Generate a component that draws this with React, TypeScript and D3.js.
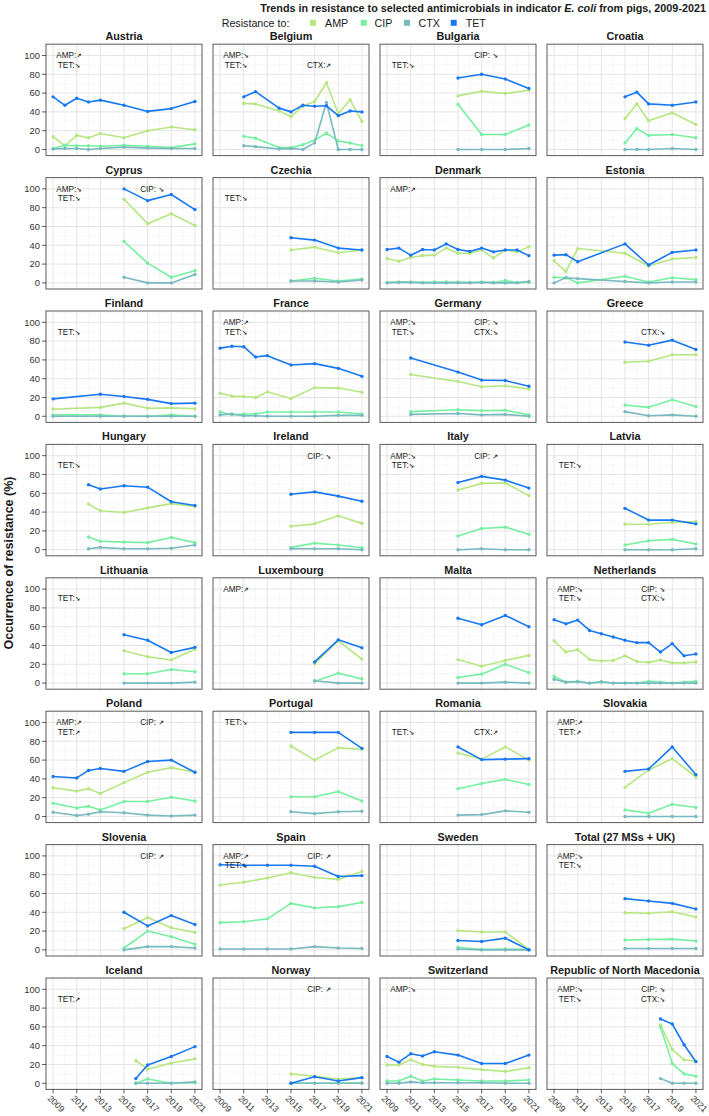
import React from "react";
import * as d3 from "d3";

const W = 709;
const H = 1116;

const countries = [
  "Austria", "Belgium", "Bulgaria", "Croatia",
  "Cyprus", "Czechia", "Denmark", "Estonia",
  "Finland", "France", "Germany", "Greece",
  "Hungary", "Ireland", "Italy", "Latvia",
  "Lithuania", "Luxembourg", "Malta", "Netherlands",
  "Poland", "Portugal", "Romania", "Slovakia",
  "Slovenia", "Spain", "Sweden", "Total (27 MSs + UK)",
  "Iceland", "Norway", "Switzerland", "Republic of North Macedonia",
];

const Y4 = [2015, 2017, 2019, 2021];
const ALL = [2009, 2010, 2011, 2012, 2013, 2014, 2015, 2016, 2017, 2018, 2019, 2020, 2021];

const years: number[][] = [
  [2009, 2010, 2011, 2012, 2013, 2015, 2017, 2019, 2021],
  [2011, 2012, 2014, 2015, 2016, 2017, 2018, 2019, 2020, 2021],
  Y4,
  [2015, 2016, 2017, 2019, 2021],
  Y4, Y4, ALL,
  [2009, 2010, 2011, 2015, 2017, 2019, 2021],
  [2009, 2013, 2015, 2017, 2019, 2021],
  [2009, 2010, 2011, 2012, 2013, 2015, 2017, 2019, 2021],
  [2011, 2015, 2017, 2019, 2021],
  Y4,
  [2012, 2013, 2015, 2017, 2019, 2021],
  Y4, Y4, Y4,
  Y4,
  [2017, 2019, 2021],
  Y4,
  ALL,
  [2009, 2011, 2012, 2013, 2015, 2017, 2019, 2021],
  Y4, Y4, Y4,
  Y4,
  [2009, 2011, 2013, 2015, 2017, 2019, 2021],
  Y4, Y4,
  [2016, 2017, 2019, 2021],
  Y4,
  [2009, 2010, 2011, 2012, 2013, 2015, 2017, 2019, 2021],
  [2018, 2019, 2020, 2021],
];

const AMP: number[][] = [
  [13.5, 4, 15, 12.5, 17, 12.5, 20, 24, 21],
  [49, 48.5, 41, 35, 46, 51, 71, 38, 53, 30],
  [57, 62, 59.5, 63],
  [33, 48.5, 30.5, 39, 26.5],
  [89, 63, 73.5, 61],
  [35, 38, 32, 35],
  [26, 23, 27, 29, 29.5, 37, 31.5, 31.5, 35, 26.5, 35, 33, 38.5],
  [23.5, 12, 36.5, 31.5, 18, 25.5, 27],
  [7.5, 9.5, 14, 8.5, 9, 8],
  [24.5, 21.5, 21, 20, 26, 19, 30.5, 30, 25.5],
  [44.5, 37, 31.5, 32.5, 29],
  [57.5, 58.5, 65.5, 65.5],
  [48.5, 41.5, 39.5, 44.5, 49, 46],
  [25, 27.5, 36, 28],
  [63.5, 70.5, 71, 57.5],
  [27, 27, 29, 30],
  [34.5, 28, 24.5, 36],
  [20.5, 45, 25.5],
  [25, 18, 24, 29.5],
  [45, 33, 35.5, 25, 23.5, 24, 29, 23, 22, 24.5, 21.5, 21.5, 22.5],
  [30.5, 27, 29.5, 24.5, 36, 47, 52, 47],
  [75, 60, 73, 71.5],
  [67.5, 61, 74, 60],
  [31, 49.5, 61.5, 42],
  [22.5, 34.5, 23.5, 18.5],
  [69, 72, 76.5, 82, 77, 75, 83.5],
  [20.5, 19, 19, 0.5],
  [39.5, 39, 40.5, 35],
  [24, 15, 21.5, 26],
  [10, 7.5, 4.5, 6],
  [19.5, 19.5, 25, 20, 18, 17, 14.5, 12.5, 16.5],
  [62, 36, 25, 23.5],
];

const CIP: number[][] = [
  [1, 4.5, 4, 4, 3.5, 4.5, 3.5, 2, 6],
  [14, 12, 2, 2, 5, 10, 17.5, 9, 7, 4],
  [48, 16, 16, 26],
  [7, 22, 15, 16, 12.5],
  [44, 21, 6, 13],
  [2, 5, 2, 4],
  [0.5, 1, 1, 0.5, 1, 1, 1, 0.5, 1, 0.5, 2.5, 0.5, 0.5],
  [6, 5.5, 0, 7, 1, 5.5, 3.5],
  [1.5, 1.5, 0, 0, 1.5, 0],
  [4.5, 1.5, 2.5, 2.5, 4.5, 4.5, 4.5, 4.5, 2.5],
  [5, 7, 6, 6.5, 1.5],
  [12, 9.5, 17.5, 10.5],
  [13.5, 9, 8, 7.5, 13, 7.5],
  [2.5, 7, 5, 2],
  [14.5, 22.5, 24, 16.5],
  [5, 9.5, 11, 6],
  [10, 10, 14.5, 12],
  [2, 10.5, 4.5],
  [6, 9.5, 20, 11],
  [7, 1, 2, 0, 1, 0, 0, 0, 2, 1, 0, 1, 2],
  [14, 9, 11, 7, 16, 16, 20.5, 16.5],
  [21, 21, 26.5, 16.5],
  [29.5, 35, 39.5, 34],
  [7, 3.5, 13, 9.5],
  [2, 20, 14, 6],
  [29, 30, 33, 49.5, 44.5, 46, 50.5],
  [2.5, 0.5, 1, 0.5],
  [10.5, 11, 11.5, 9.5],
  [0, 4.5, 0, 0.5],
  [0, 0, 0, 0.5],
  [2.5, 2.5, 7.5, 2.5, 4.5, 3.5, 2.5, 2.5, 3.5],
  [60, 21, 10, 7.5],
];

const CTX: number[][] = [
  [0.5, 1, 1, 0, 1, 2.5, 1.5, 1, 1],
  [4, 3, 0.5, 1, 0, 7, 50, 0, 0, 0],
  [0, 0, 0, 1],
  [0, 0, 0, 1, 0],
  [6, 0, 0, 9],
  [2, 2, 1, 3],
  [0, 0.5, 0.5, 0, 0, 0, 0, 0, 0.5, 0, 0, 0, 1.5],
  [0, 5.5, 4.5, 1.5, 0, 1, 1],
  [0, 0, 0, 0, 0, 0],
  [1.5, 2.5, 0.5, 0.5, 0, 0, 0, 1, 1],
  [2, 3, 1.5, 2, 0],
  [5, 0.5, 1.5, 0],
  [1, 2.5, 1, 1, 1.5, 5],
  [1, 1, 1, 0],
  [0, 1, 0, 0],
  [0, 0, 0, 1],
  [0, 0, 0, 1],
  [2.5, 0, 0],
  [0, 0, 1, 0],
  [4, 1, 1.5, 0, 1.5, 0, 0, 0, 0, 0, 0, 0, 0],
  [4.5, 1, 2.5, 5, 4, 1.5, 0.5, 1.5],
  [5, 3, 5, 5.5],
  [1.5, 2, 6, 4.5],
  [0, 0, 0, 0],
  [0, 3.5, 3.5, 2],
  [1, 1, 1, 1, 3.5, 2, 1.5],
  [1, 0, 0, 0],
  [1.5, 1.5, 1.5, 1.5],
  [0, 0, 0, 1.5],
  [0, 0, 0, 0],
  [0, 0, 1.5, 0.5, 0.5, 0.5, 0.5, 0, 0],
  [5, 0, 0, 0],
];

const TET: number[][] = [
  [56, 47, 54.5, 50.5, 52.5, 47, 40.5, 43.5, 51],
  [56, 61.5, 44, 40, 47, 46, 46.5, 36, 41, 40],
  [76, 80, 75, 65],
  [56, 61, 48.5, 47, 50.5],
  [100, 87.5, 94, 78],
  [48, 45.5, 37, 35],
  [35.5, 37, 29.5, 35.5, 35, 41.5, 35.5, 33.5, 37, 33, 35, 35, 29],
  [29.5, 30, 22.5, 41.5, 19, 32.5, 35],
  [18.5, 23.5, 21, 18, 13.5, 14],
  [72.5, 74.5, 74, 63, 64.5, 54.5, 56, 51, 42.5],
  [62, 47, 38.5, 38, 32],
  [79, 75.5, 81, 71],
  [69, 64.5, 68, 66.5, 51, 47],
  [59, 61.5, 57, 51.5],
  [71.5, 78, 74, 65.5],
  [44, 31.5, 31.5, 27.5],
  [51.5, 45.5, 32.5, 38],
  [22.5, 46, 37.5],
  [69, 62, 72, 60],
  [67.5, 63, 67, 56, 52.5, 49, 45.5, 43, 43, 33, 42, 29, 31],
  [42.5, 41, 49, 51, 48, 58.5, 60, 47],
  [89.5, 89.5, 89.5, 72.5],
  [74, 60.5, 61, 61.5],
  [48, 50.5, 74, 44.5],
  [40, 25.5, 36.5, 27],
  [90.5, 90, 90, 90, 89, 78, 79],
  [10, 9, 12.5, 0],
  [54.5, 52, 49.5, 43.5],
  [5, 19.5, 28.5, 39],
  [0, 7, 2.5, 6],
  [28.5, 22.5, 31.5, 29, 33.5, 30, 21, 21, 30],
  [68.5, 63, 41, 23],
];

// trend notes: [line1, line2]
const notesLeft: string[][] = [
  ["AMP:↗", "TET:↘"], ["AMP:↘", "TET:↘"], ["", "TET:↘"], ["", ""],
  ["AMP:↘", "TET:↘"], ["", "TET:↘"], ["AMP:↗", ""], ["", ""],
  ["", "TET:↘"], ["AMP:↗", "TET:↘"], ["AMP:↘", "TET:↘"], ["", ""],
  ["", "TET:↘"], ["", ""], ["AMP:↘", "TET:↘"], ["", "TET:↘"],
  ["", "TET:↘"], ["AMP:↗", ""], ["", ""], ["AMP:↘", "TET:↘"],
  ["AMP:↗", "TET:↗"], ["TET:↘", ""], ["", "TET:↘"], ["AMP:↗", "TET:↗"],
  ["", ""], ["AMP:↗", "TET:↘"], ["", ""], ["AMP:↘", "TET:↘"],
  ["", "TET:↗"], ["", ""], ["AMP:↘", ""], ["AMP:↘", "TET:↘"],
];
const notesMid: string[][] = [
  ["", ""], ["", "CTX:↗"], ["CIP: ↘", ""], ["", ""],
  ["CIP: ↘", ""], ["", ""], ["", ""], ["", ""],
  ["", ""], ["", ""], ["CIP: ↘", "CTX:↘"], ["", "CTX:↘"],
  ["", ""], ["CIP: ↘", ""], ["CIP: ↗", ""], ["", ""],
  ["", ""], ["", ""], ["", ""], ["CIP: ↘", "CTX:↘"],
  ["CIP: ↗", ""], ["", ""], ["", "CTX:↗"], ["", ""],
  ["CIP: ↗", ""], ["CIP: ↗", ""], ["", ""], ["", ""],
  ["", ""], ["CIP: ↗", ""], ["", ""], ["CIP: ↘", "CTX:↘"],
];

const seriesNames = ["AMP", "CIP", "CTX", "TET"];
const seriesData = [AMP, CIP, CTX, TET];
const colors = ["#b7e680", "#76f0a0", "#78babf", "#1878f3"];
const yTicks = [0, 20, 40, 60, 80, 100];
const xTicks = [2009, 2011, 2013, 2015, 2017, 2019, 2021];

const FONT = "'Liberation Sans', Arial, Helvetica, sans-serif";

const PW = 156;
const PH = 111.4;
const colLeft = (c: number) => 46 + c * 167;
const rowTop = (r: number) => 44.2 + r * 133.4;

function Note({ text, x, y }: { text: string; x: number; y: number }) {
  if (!text) return null;
  const label = text.slice(0, -1);
  const arrow = text.slice(-1);
  return (
    <text x={x} y={y} textAnchor="middle" fontSize={8.2} fill="#1a1a1a" fontFamily={FONT}>
      {label}
      <tspan fontSize={6.5} fontWeight="bold" fontFamily="'DejaVu Sans', sans-serif">{arrow}</tspan>
    </text>
  );
}

function Panel({ idx }: { idx: number }) {
  const c = idx % 4;
  const r = Math.floor(idx / 4);
  const left = colLeft(c);
  const top = rowTop(r);
  const x = d3.scaleLinear().domain([2008.4, 2021.6]).range([left, left + PW]);
  const y = d3.scaleLinear().domain([-6.5, 112]).range([top + PH, top]);
  const line = d3
    .line<[number, number]>()
    .x((d) => x(d[0]))
    .y((d) => y(d[1]));
  const minorX = d3.range(2010, 2021, 2);
  const minorY = [10, 30, 50, 70, 90, 110];
  const yrs = years[idx];
  return (
    <g>
      <text x={left + PW / 2} y={top - 4} textAnchor="middle" fontSize={10.8} fontWeight="bold" fill="#1a1a1a" fontFamily={FONT}>
        {countries[idx]}
      </text>
      <rect x={left} y={top} width={PW} height={PH} fill="#ffffff" />
      {minorX.map((v) => (
        <line key={"mx" + v} x1={x(v)} x2={x(v)} y1={top} y2={top + PH} stroke="#f1f1f1" strokeWidth={0.5} />
      ))}
      {minorY.map((v) => (
        <line key={"my" + v} y1={y(v)} y2={y(v)} x1={left} x2={left + PW} stroke="#f1f1f1" strokeWidth={0.5} />
      ))}
      {xTicks.map((v) => (
        <line key={"gx" + v} x1={x(v)} x2={x(v)} y1={top} y2={top + PH} stroke="#e2e2e2" strokeWidth={0.9} />
      ))}
      {yTicks.map((v) => (
        <line key={"gy" + v} y1={y(v)} y2={y(v)} x1={left} x2={left + PW} stroke="#e2e2e2" strokeWidth={0.9} />
      ))}
      {seriesData.map((s, si) => {
        const pts: [number, number][] = yrs.map((yr, i) => [yr, s[idx][i]]);
        return (
          <g key={seriesNames[si]}>
            <path d={line(pts) || ""} fill="none" stroke={colors[si]} strokeWidth={1.6} strokeLinejoin="round" />
            {pts.map((p, i) => (
              <circle key={i} cx={x(p[0])} cy={y(p[1])} r={1.7} fill={colors[si]} />
            ))}
          </g>
        );
      })}
      <Note text={notesLeft[idx][0]} x={left + 23} y={y(100) + 3} />
      <Note text={notesLeft[idx][1]} x={left + 23} y={y(90) + 3} />
      <Note text={notesMid[idx][0]} x={left + 106} y={y(100) + 3} />
      <Note text={notesMid[idx][1]} x={left + 106} y={y(90) + 3} />
      <rect x={left} y={top} width={PW} height={PH} fill="none" stroke="#5a5a5a" strokeWidth={1} />
      {c === 0 &&
        yTicks.map((v) => (
          <g key={"yt" + v}>
            <line x1={left - 4} x2={left} y1={y(v)} y2={y(v)} stroke="#333" strokeWidth={0.8} />
            <text x={left - 6} y={y(v) + 3.3} textAnchor="end" fontSize={9.4} fill="#333" fontFamily={FONT}>
              {v}
            </text>
          </g>
        ))}
      {r === 7 &&
        xTicks.map((v) => (
          <g key={"xt" + v}>
            <line x1={x(v)} x2={x(v)} y1={top + PH} y2={top + PH + 4} stroke="#333" strokeWidth={0.8} />
            <text
              transform={`translate(${x(v) - 6},${top + PH + 9.5}) rotate(45)`}
              fontSize={8.8}
              fill="#333"
              fontFamily={FONT}
            >
              {v}
            </text>
          </g>
        ))}
    </g>
  );
}

export default function App() {
  const legendSq = [310, 360.7, 404, 450.7];
  const legendTx = [325, 374.5, 418.5, 465.7];
  return (
    <svg
      width={W}
      height={H}
      viewBox={`0 0 ${W} ${H}`}
      style={{ position: "absolute", left: 0, top: 0, display: "block", background: "#fff" }}
    >
      <rect x={0} y={0} width={W} height={H} fill="#ffffff" />
      <text x={706} y={12} textAnchor="end" fontSize={10.8} fontWeight="bold" fill="#1a1a1a" fontFamily={FONT}>
        Trends in resistance to selected antimicrobials in indicator <tspan fontStyle="italic">E. coli</tspan> from pigs, 2009-2021
      </text>
      <text x={221.7} y={26.5} fontSize={10.7} fill="#1a1a1a" fontFamily={FONT}>
        Resistance to:
      </text>
      {seriesNames.map((s, i) => (
        <g key={s}>
          <rect x={legendSq[i]} y={19.8} width={6} height={6} fill={colors[i]} />
          <text x={legendTx[i]} y={26.5} fontSize={10.7} fill="#1a1a1a" fontFamily={FONT}>
            {s}
          </text>
        </g>
      ))}
      <text
        transform="translate(12.5,563) rotate(-90)"
        textAnchor="middle"
        fontSize={12.5}
        fontWeight="bold"
        fill="#1a1a1a"
        fontFamily={FONT}
      >
        Occurrence of resistance (%)
      </text>
      {countries.map((_, i) => (
        <Panel key={i} idx={i} />
      ))}
    </svg>
  );
}
